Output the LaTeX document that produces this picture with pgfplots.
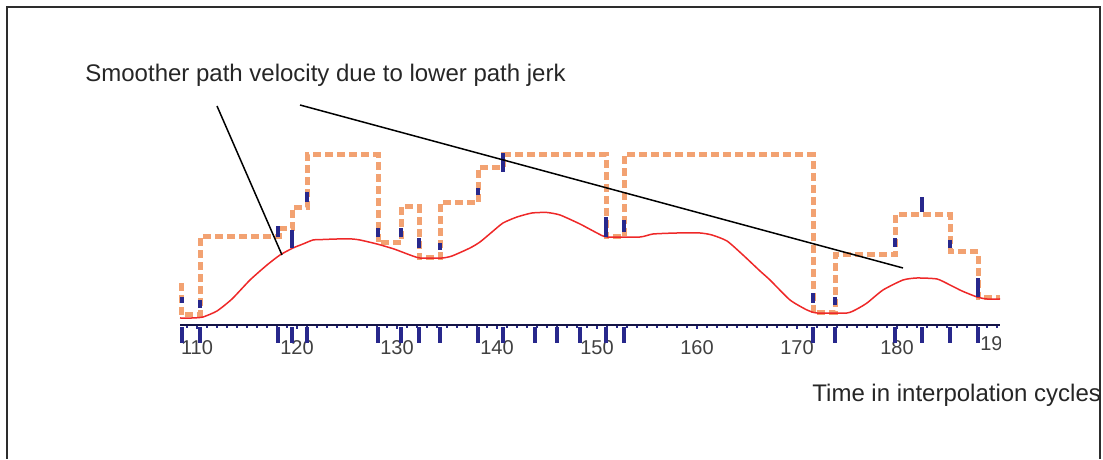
\documentclass[border=0pt]{standalone}
\usepackage{fontspec}
\setmainfont{Liberation Sans}
\usepackage{pgfplots}
\pgfplotsset{compat=1.18}
\definecolor{lineorange}{RGB}{242,162,114}
\definecolor{linered}{RGB}{238,40,40}
\definecolor{navy}{RGB}{40,40,140}
\definecolor{framegray}{RGB}{45,45,45}
\begin{document}
\begin{tikzpicture}
\path (0pt,0pt) rectangle (551.5pt,229.5pt);
\draw[framegray, line width=0.9pt] (3.5pt,0pt) -- (3.5pt,226pt) -- (550pt,226pt) -- (550pt,0pt);
\begin{axis}[
  at={(90pt,67pt)}, anchor=south west,
  scale only axis, width=410pt, height=100pt,
  xmin=108.3, xmax=190.3, ymin=0, ymax=200,
  clip=false,
  axis x line*=bottom, axis y line=none,
  x axis line style={draw=navy!50!black, line width=0.8pt, -},
  xtick={110,120,...,180},
  minor xtick={109,...,190},
  tick align=outside,
  major tick length=2pt, minor tick length=1.5pt,
  tick style={navy, line width=0.6pt},
  xticklabel style={font=\fontsize{10}{12}\selectfont, text=black!75, inner sep=0pt, yshift=-5.5pt},
  /pgf/number format/assume math mode=true,
  unbounded coords=jump,
]
% commanded path velocity (stepwise)
\addplot[lineorange, line width=2.5pt, dash pattern=on 4pt off 2pt] coordinates {
(108.4,42)(108.4,10)(110.3,10)(110.3,88)(118.2,88)(118.2,96)(119.5,96)(119.5,117)(121,117)(121,170)(128.1,170)(128.1,82)(130.4,82)(130.4,118)(132.2,118)(132.2,67)(134.3,67)(134.3,122)(138.1,122)(138.1,157)(140.6,157)(140.6,170)(150.9,170)(150.9,88)(152.7,88)(152.7,170)(171.6,170)(171.6,12)(173.8,12)(173.8,70)(179.8,70)(179.8,110)(185.3,110)(185.3,73)(188.1,73)(188.1,27)(190.3,27)
};
% smoothed path velocity
\addplot[linered, line width=0.75pt, smooth, tension=0.35] coordinates {
(108.3,7)(109.5,7)(110.6,8)(112,14)(113.5,26)(115.3,45)(117,60)(118.3,70)(119.6,77)(120.6,81)(121.6,85)(122.6,85.5)(124,86)(125.5,86)(126.3,85)(128,81)(129.7,76)(131.3,70)(132.3,67)(134.5,67)(135.5,69)(137.3,77)(138.3,83)(139.5,93)(140.6,102)(142,108)(143.5,112)(145,112.5)(146.3,110)(148.3,101)(150,92)(151,88)(154.3,88)(155.6,91)(158,92)(160.3,92)(161.5,90)(163,84)(164.6,70)(166.3,54)(167.3,45)(169.3,25)(171,15)(172,12)(175,12)(176,16)(177,22)(178.6,35)(180.6,45)(182,47)(184,46)(185.3,40)(186.5,34)(188,28)(189,26)(190.3,26)
};
% blue markers on the steps
\addplot[navy, line width=1.6pt] coordinates {
(108.5,22)(108.5,28)(108.5,nan)
(110.3,17)(110.3,25)(110.3,nan)
(118.1,88)(118.1,99)(118.1,nan)
(119.5,77)(119.5,95)(119.5,nan)
(121,123)(121,133)(121,nan)
(128.1,88)(128.1,97)(128.1,nan)
(130.4,88)(130.4,97)(130.4,nan)
(132.2,77)(132.2,87)(132.2,nan)
(134.3,75)(134.3,82)(134.3,nan)
(138.1,130)(138.1,137)(138.1,nan)
(140.6,153)(140.6,172)(140.6,nan)
(150.9,88)(150.9,108)(150.9,nan)
(152.7,93)(152.7,105)(152.7,nan)
(171.6,22)(171.6,32)(171.6,nan)
(173.8,20)(173.8,28)(173.8,nan)
(179.8,78)(179.8,87)(179.8,nan)
(182.5,113)(182.5,128)(182.5,nan)
(185.3,77)(185.3,85)(185.3,nan)
(188.1,28)(188.1,47)
};
% blue long ticks below the time axis
\addplot[navy, line width=1.8pt] coordinates {
(108.5,-2)(108.5,-18)(108.5,nan)
(110.3,-2)(110.3,-18)(110.3,nan)
(118.1,-2)(118.1,-18)(118.1,nan)
(119.5,-2)(119.5,-18)(119.5,nan)
(121,-2)(121,-18)(121,nan)
(128.1,-2)(128.1,-18)(128.1,nan)
(130.4,-2)(130.4,-18)(130.4,nan)
(132.2,-2)(132.2,-18)(132.2,nan)
(134.3,-2)(134.3,-18)(134.3,nan)
(138.1,-2)(138.1,-18)(138.1,nan)
(140.6,-2)(140.6,-18)(140.6,nan)
(143.8,-2)(143.8,-18)(143.8,nan)
(146,-2)(146,-18)(146,nan)
(148.3,-2)(148.3,-18)(148.3,nan)
(150.9,-2)(150.9,-18)(150.9,nan)
(152.7,-2)(152.7,-18)(152.7,nan)
(171.6,-2)(171.6,-18)(171.6,nan)
(173.8,-2)(173.8,-18)(173.8,nan)
(179.8,-2)(179.8,-18)(179.8,nan)
(182.5,-2)(182.5,-18)(182.5,nan)
(185.3,-2)(185.3,-18)(185.3,nan)
(188.1,-2)(188.1,-18)
};
\end{axis}
\begin{scope}
\clip (0pt,0pt) rectangle (500pt,229.5pt);
\node[anchor=north, inner sep=0pt, font=\fontsize{10}{12}\selectfont, text=black!75] at (498.5pt,61.5pt) {190};
\end{scope}
\draw[black, line width=0.75pt] (108.5pt,176.5pt) -- (141pt,102pt);
\draw[black, line width=0.75pt] (150pt,177pt) -- (451.5pt,95.5pt);
\node[anchor=base west, inner sep=0pt, font=\fontsize{12}{14}\selectfont, text=black!85] at (42.5pt,188.5pt) {Smoother path velocity due to lower path jerk};
\node[anchor=base west, inner sep=0pt, font=\fontsize{12}{14}\selectfont, text=black!85] at (406pt,28.5pt) {Time in interpolation cycles};
\end{tikzpicture}
\end{document}
